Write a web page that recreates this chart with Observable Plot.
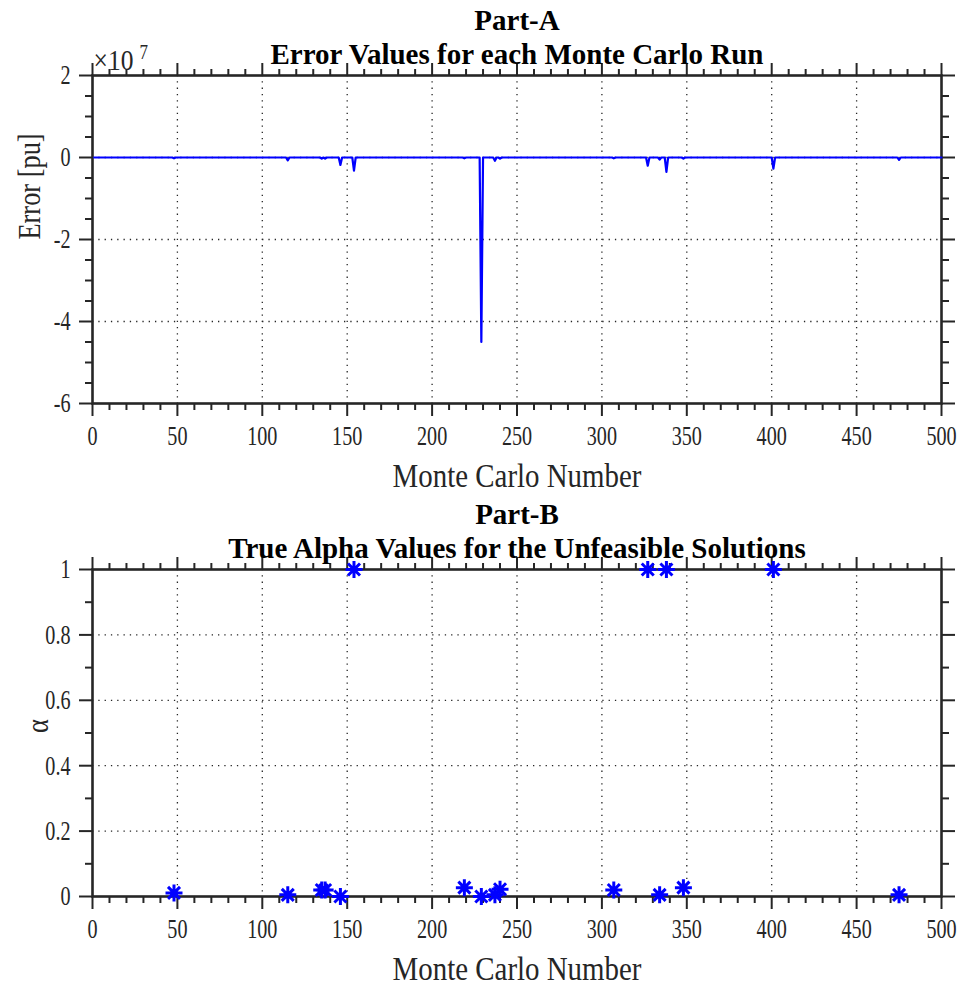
<!DOCTYPE html>
<html>
<head>
<meta charset="utf-8">
<script src="https://cdn.jsdelivr.net/npm/d3@7"></script>
<script src="https://cdn.jsdelivr.net/npm/@observablehq/plot@0.6"></script>
<style>
  html, body { margin: 0; padding: 0; background: #fff; }
  #chart { width: 967px; height: 988px; }
  #chart svg { display: block; }
</style>
</head>
<body>
<div id="chart"></div>
<script>
// Monte Carlo runs whose error is non-zero (all other runs sit at 0)
const errorRuns   = [48, 115, 135, 137, 146, 154, 219, 229, 237, 240, 307, 327, 334, 338, 348, 401, 475];
const errorValues = [-0.02e7, -0.07e7, -0.03e7, -0.03e7, -0.18e7, -0.32e7, -0.02e7, -4.5e7, -0.08e7, -0.03e7,
                     -0.02e7, -0.2e7, -0.05e7, -0.35e7, -0.03e7, -0.27e7, -0.06e7];
const runCount = 500;

// True alpha of the unfeasible solutions
const alphaRuns   = [48, 115, 135, 137, 146, 154, 219, 229, 237, 240, 307, 327, 334, 338, 348, 401, 475];
const alphaValues = [0.011, 0.005, 0.02, 0.02, 0.0, 1, 0.027, 0.0, 0.005, 0.022, 0.02, 1, 0.005, 1, 0.027, 1, 0.005];

// Axis ticks
const xMajor = [0, 50, 100, 150, 200, 250, 300, 350, 400, 450, 500];
const xMinor = [10, 20, 30, 40, 60, 70, 80, 90, 110, 120, 130, 140, 160, 170, 180, 190, 210, 220, 230, 240,
                260, 270, 280, 290, 310, 320, 330, 340, 360, 370, 380, 390, 410, 420, 430, 440, 460, 470, 480, 490];
const errMajor = [-6e7, -4e7, -2e7, 0, 2e7];
const errMinor = [-5.5e7, -5e7, -4.5e7, -3.5e7, -3e7, -2.5e7, -1.5e7, -1e7, -0.5e7, 0.5e7, 1e7, 1.5e7];
const alphaMajor = [0, 0.2, 0.4, 0.6, 0.8, 1];
const alphaMinor = [0.1, 0.3, 0.5, 0.7, 0.9];

// Text
const titlesA = ["Part-A", "Error Values for each Monte Carlo Run"];
const titlesB = ["Part-B", "True Alpha Values for the Unfeasible Solutions"];
const xLabel = "Monte Carlo Number";
const yLabelA = "Error [pu]";
const yLabelB = "α";

const ink = "#262626";
const blue = "#0000ff";

const errorByRun = new Map(errorRuns.map((r, i) => [r, errorValues[i]]));
const errorTable = d3.range(1, runCount + 1).map(run => ({run, error: errorByRun.get(run) ?? 0}));
const alphaTable = alphaRuns.map((run, i) => ({run, alpha: alphaValues[i]}));

// Eight-armed asterisk marker
const asterisk = {
  draw(ctx, size) {
    const r = Math.sqrt(size / Math.PI);
    const d = r * Math.SQRT1_2;
    ctx.moveTo(-r, 0); ctx.lineTo(r, 0);
    ctx.moveTo(0, -r); ctx.lineTo(0, r);
    ctx.moveTo(-d, -d); ctx.lineTo(d, d);
    ctx.moveTo(-d, d); ctx.lineTo(d, -d);
  }
};

const blank = () => "";

function boxAxes(yMajor, yMinor, yFormat) {
  const grid = {stroke: ink, strokeOpacity: 1, strokeWidth: 1.3, strokeDasharray: "1.3,5"};
  const tick = {color: ink, strokeWidth: 2, label: null, fontSize: 28};
  return [
    Plot.gridX(xMajor.slice(1, -1), grid),
    Plot.gridY(yMajor.slice(1, -1), grid),
    Plot.axisX(xMajor, {...tick, anchor: "bottom", tickSize: 13, tickPadding: 9, tickFormat: d => String(d)}),
    Plot.axisX(xMinor, {...tick, anchor: "bottom", tickSize: 7, tickFormat: blank}),
    Plot.axisX(xMajor, {...tick, anchor: "top", tickSize: 13, tickFormat: blank}),
    Plot.axisX(xMinor, {...tick, anchor: "top", tickSize: 7, tickFormat: blank}),
    Plot.axisY(yMajor, {...tick, anchor: "left", tickSize: 13, tickPadding: 9, tickFormat: yFormat}),
    Plot.axisY(yMinor, {...tick, anchor: "left", tickSize: 7, tickFormat: blank}),
    Plot.axisY(yMajor, {...tick, anchor: "right", tickSize: 13, tickFormat: blank}),
    Plot.axisY(yMinor, {...tick, anchor: "right", tickSize: 7, tickFormat: blank}),
    Plot.frame({stroke: ink, strokeWidth: 2.6})
  ];
}

function labels(titles, yLabel, yLabelDx) {
  return [
    Plot.text([titles[0]], {frameAnchor: "top", dy: -46, lineAnchor: "bottom", fontSize: 29, fontWeight: "bold", fill: "#000"}),
    Plot.text([titles[1]], {frameAnchor: "top", dy: -12, lineAnchor: "bottom", fontSize: 29, fontWeight: "bold", fill: "#000"}),
    Plot.text([xLabel], {frameAnchor: "bottom", dy: 83, lineAnchor: "bottom", fontSize: 34, fill: ink}),
    Plot.text([yLabel], {frameAnchor: "left", dx: yLabelDx, rotate: -90, lineAnchor: "middle", fontSize: 31, fill: ink})
  ];
}

const common = {
  width: 967,
  height: 494,
  marginLeft: 92,
  marginRight: 26,
  marginTop: 75,
  style: {fontFamily: "'Liberation Serif', 'Times New Roman', serif", fontSize: "28px", color: ink, background: "#fff", overflow: "visible"},
  x: {domain: [0, 500]}
};

const errorPlot = Plot.plot({
  ...common,
  marginBottom: 91,
  y: {domain: [-6e7, 2e7]},
  marks: [
    ...boxAxes(errMajor, errMinor, d => String(d / 1e7)),
    Plot.line(errorTable, {x: "run", y: "error", stroke: blue, strokeWidth: 2.2}),
    ...labels(titlesA, yLabelA, -62),
    Plot.text(["×10"], {frameAnchor: "top-left", textAnchor: "start", lineAnchor: "bottom", dx: 1, dy: -6, fontSize: 30, fill: ink}),
    Plot.text(["7"], {frameAnchor: "top-left", textAnchor: "start", lineAnchor: "bottom", dx: 47, dy: -17, fontSize: 20, fill: ink})
  ]
});

const alphaPlot = Plot.plot({
  ...common,
  marginBottom: 92,
  y: {domain: [0, 1]},
  marks: [
    ...boxAxes(alphaMajor, alphaMinor, d => String(d)),
    Plot.dot(alphaTable, {x: "run", y: "alpha", symbol: asterisk, r: 8.5, stroke: blue, strokeWidth: 3, fill: "none"}),
    ...labels(titlesB, yLabelB, -54)
  ]
});

const chart = document.getElementById("chart");
chart.append(errorPlot, alphaPlot);

// Narrow serif lettering; tick numerals narrower still, titles left at natural width
const titleSet = new Set([...titlesA, ...titlesB]);
chart.querySelectorAll("text").forEach(t => {
  if (titleSet.has(t.textContent)) return;
  const len = t.getComputedTextLength();
  if (len > 0) {
    const tickLabel = t.closest('[aria-label$="tick label"]');
    const squeeze = tickLabel ? 0.72 : 0.85;
    t.setAttribute("textLength", (len * squeeze).toFixed(2));
    t.setAttribute("lengthAdjust", "spacingAndGlyphs");
  }
});
</script>
</body>
</html>
